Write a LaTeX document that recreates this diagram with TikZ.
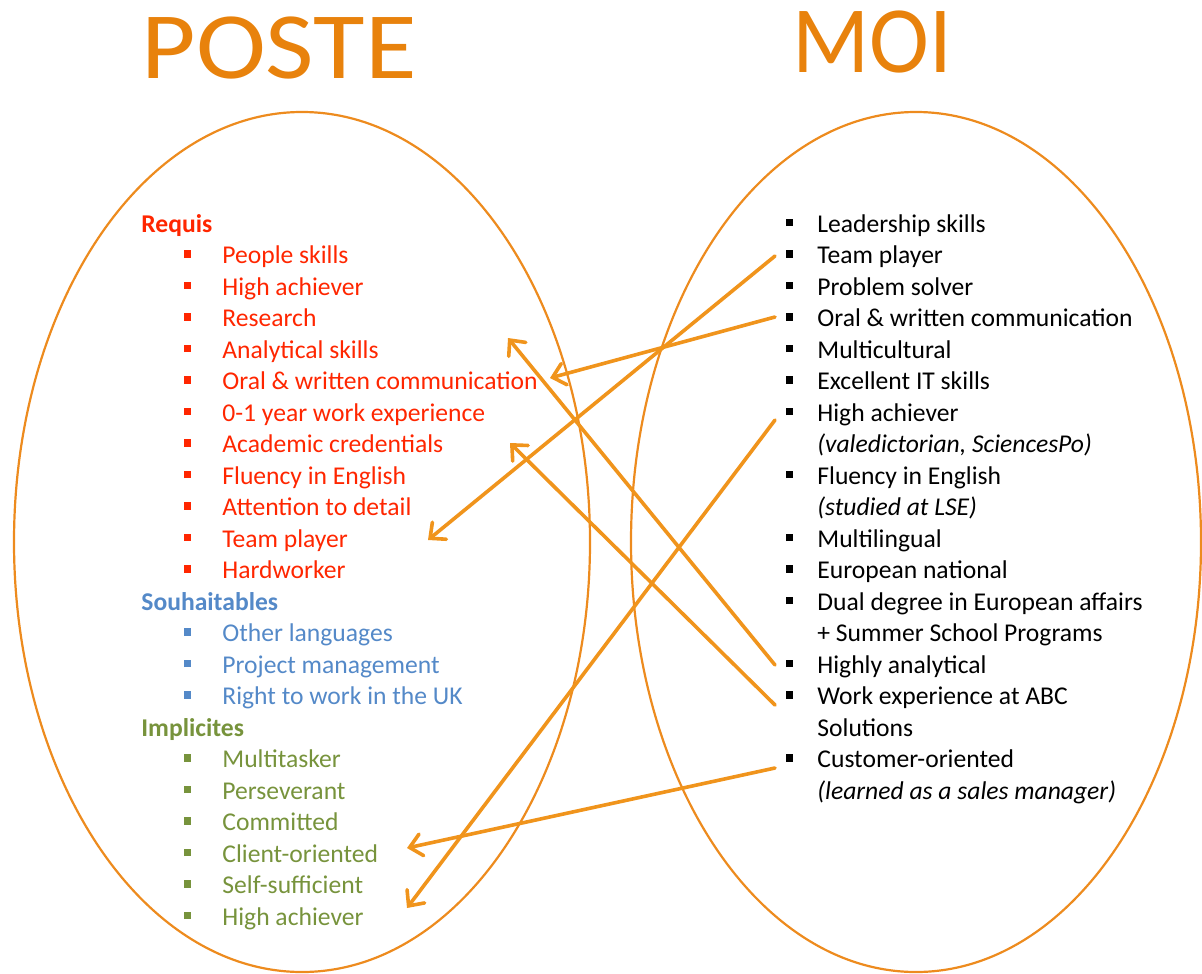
\documentclass[tikz,border=0pt]{standalone}
\usepackage{fontspec}
\setmainfont{Carlito}
\usetikzlibrary{arrows.meta}

\definecolor{ringorange}{RGB}{237,139,30}
\definecolor{linkorange}{RGB}{240,148,28}
\definecolor{titleorange}{RGB}{232,130,12}
\definecolor{reqred}{RGB}{255,38,0}
\definecolor{wishblue}{RGB}{84,137,200}
\definecolor{implgreen}{RGB}{119,147,60}

% square list bullet hung to the left of an item
\newcommand{\sqbul}[2]{\llap{\textcolor{#1}{\rule[3pt]{3.6pt}{3.6pt}}\hspace{#2}}}
\newcommand{\lb}[1]{\sqbul{#1}{15.75pt}}
\newcommand{\rb}{\sqbul{black}{12pt}}

\tikzset{
  item/.style={anchor=base west, inner sep=0pt, font=\fontsize{12.8}{15}\selectfont},
  head/.style={item, font=\fontsize{12.8}{15}\selectfont\bfseries},
  title/.style={anchor=base, inner sep=0pt, text=titleorange, font=\fontsize{47.5}{50}\selectfont},
  ring/.style={draw=ringorange, line width=1.1pt},
  link/.style={draw=linkorange, line width=1.8pt, line cap=round,
    -{Straight Barb[length=6pt,width=11pt,line cap=round]}},
}

\begin{document}
\begin{tikzpicture}[x=0.5pt, y=-0.5pt]
\useasboundingbox (0,0) rectangle (1202,973);

% titles
\node[title] (tposte) at (279,79) {\scalebox{1.11}[1]{POSTE}};
\node[title] (tmoi) at (872,73) {\scalebox{0.95}[1]{MOI}};

% the two sets
\draw[ring] (302,542) ellipse [x radius=144pt, y radius=215pt];
\draw[ring] (916,542) ellipse [x radius=142.5pt, y radius=215pt];

% left set: the position
\node[head, text=reqred] (lreq) at (141,232) {Requis};
\node[item, text=reqred] (l1) at (222,263.5) {\lb{reqred}People skills};
\node[item, text=reqred] (l2) at (222,295) {\lb{reqred}High achiever};
\node[item, text=reqred] (l3) at (222,326.5) {\lb{reqred}Research};
\node[item, text=reqred] (l4) at (222,358) {\lb{reqred}Analytical skills};
\node[item, text=reqred] (l5) at (222,389.5) {\lb{reqred}Oral \& written communication};
\node[item, text=reqred] (l6) at (222,421) {\lb{reqred}0-1 year work experience};
\node[item, text=reqred] (l7) at (222,452.5) {\lb{reqred}Academic credentials};
\node[item, text=reqred] (l8) at (222,484) {\lb{reqred}Fluency in English};
\node[item, text=reqred] (l9) at (222,515.5) {\lb{reqred}Attention to detail};
\node[item, text=reqred] (l10) at (222,547) {\lb{reqred}Team player};
\node[item, text=reqred] (l11) at (222,578.5) {\lb{reqred}Hardworker};
\node[head, text=wishblue] (lwish) at (141,610) {Souhaitables};
\node[item, text=wishblue] (l13) at (222,641.5) {\lb{wishblue}Other languages};
\node[item, text=wishblue] (l14) at (222,673) {\lb{wishblue}Project management};
\node[item, text=wishblue] (l15) at (222,704.5) {\lb{wishblue}Right to work in the UK};
\node[head, text=implgreen] (limpl) at (141,736) {Implicites};
\node[item, text=implgreen] (l17) at (222,767.5) {\lb{implgreen}Multitasker};
\node[item, text=implgreen] (l18) at (222,799) {\lb{implgreen}Perseverant};
\node[item, text=implgreen] (l19) at (222,830.5) {\lb{implgreen}Committed};
\node[item, text=implgreen] (l20) at (222,862) {\lb{implgreen}Client-oriented};
\node[item, text=implgreen] (l21) at (222,893.5) {\lb{implgreen}Self-sufficient};
\node[item, text=implgreen] (l22) at (222,925) {\lb{implgreen}High achiever};

% right set: me
\node[item] (r0) at (817,232) {\rb Leadership skills};
\node[item] (r1) at (817,263.5) {\rb Team player};
\node[item] (r2) at (817,295) {\rb Problem solver};
\node[item] (r3) at (817,326.5) {\rb Oral \& written communication};
\node[item] (r4) at (817,358) {\rb Multicultural};
\node[item] (r5) at (817,389.5) {\rb Excellent IT skills};
\node[item] (r6) at (817,421) {\rb High achiever};
\node[item] (r7) at (817,452.5) {\itshape (valedictorian, SciencesPo)};
\node[item] (r8) at (817,484) {\rb Fluency in English};
\node[item] (r9) at (817,515.5) {\itshape (studied at LSE)};
\node[item] (r10) at (817,547) {\rb Multilingual};
\node[item] (r11) at (817,578.5) {\rb European national};
\node[item] (r12) at (817,610) {\rb Dual degree in European affairs};
\node[item] (r13) at (817,641.5) {+ Summer School Programs};
\node[item] (r14) at (817,673) {\rb Highly analytical};
\node[item] (r15) at (817,704.5) {\rb Work experience at ABC};
\node[item] (r16) at (817,736) {Solutions};
\node[item] (r17) at (817,767.5) {\rb Customer-oriented};
\node[item] (r18) at (817,799) {\itshape (learned as a sales manager)};

% arrow ends
\coordinate (ateam) at (775,256);
\coordinate (bteam) at (428,540);
\coordinate (aoral) at (775,317);
\coordinate (boral) at (550,378);
\coordinate (ahigh) at (775,420);
\coordinate (bhigh) at (407,908);
\coordinate (aanal) at (775,665);
\coordinate (banal) at (508,338);
\coordinate (awork) at (775,705);
\coordinate (bacad) at (510,443);
\coordinate (acust) at (775,768);
\coordinate (bclient) at (407,848);

% matches between the two sets
\draw[link] (ateam) -- (bteam);
\draw[link] (aoral) -- (boral);
\draw[link] (ahigh) -- (bhigh);
\draw[link] (aanal) -- (banal);
\draw[link] (awork) -- (bacad);
\draw[link] (acust) -- (bclient);
\end{tikzpicture}
\end{document}
